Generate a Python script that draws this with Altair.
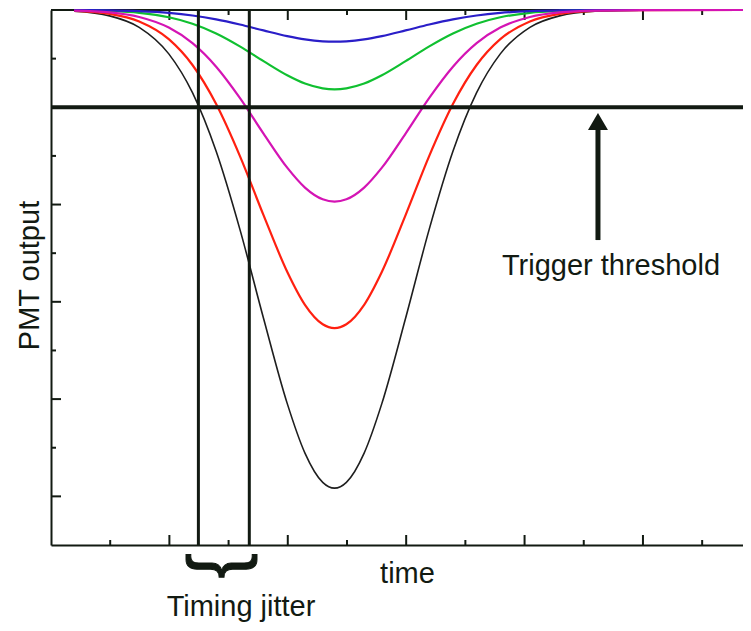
import altair as alt
import pandas as pd

# ---------------- data ----------------
X_DOMAIN = [0, 11.69]
Y_DOMAIN = [-11, 0]

t = [0.39, 0.99, 1.49, 1.99, 2.39, 2.79, 3.19, 3.59, 3.99, 4.29, 4.59, 4.79, 4.99,
     5.29, 5.59, 5.99, 6.39, 6.79, 7.19, 7.59, 8.09, 8.59, 9.19, 10.0, 11.69]

black = [-0.027, -0.121, -0.356, -0.902, -1.700, -2.906, -4.506, -6.338, -8.088, -9.110, -9.711, -9.83,
         -9.711, -9.110, -8.088, -6.338, -4.506, -2.906, -1.700, -0.902, -0.356, -0.121, -0.027, -0.003, 0.0]
red = [-0.018, -0.080, -0.237, -0.600, -1.131, -1.933, -2.998, -4.217, -5.381, -6.061, -6.461, -6.54,
       -6.461, -6.061, -5.381, -4.217, -2.998, -1.933, -1.131, -0.600, -0.237, -0.080, -0.018, -0.002, 0.0]
magenta = [-0.011, -0.048, -0.143, -0.361, -0.681, -1.165, -1.806, -2.541, -3.242, -3.651, -3.892, -3.94,
           -3.892, -3.651, -3.242, -2.541, -1.806, -1.165, -0.681, -0.361, -0.143, -0.048, -0.011, -0.001, 0.0]
green = [-0.004, -0.020, -0.059, -0.150, -0.282, -0.482, -0.747, -1.051, -1.341, -1.511, -1.610, -1.63,
         -1.610, -1.511, -1.341, -1.051, -0.747, -0.482, -0.282, -0.150, -0.059, -0.020, -0.004, 0.0, 0.0]
blue = [-0.002, -0.008, -0.024, -0.060, -0.113, -0.193, -0.299, -0.420, -0.536, -0.604, -0.644, -0.652,
        -0.644, -0.604, -0.536, -0.420, -0.299, -0.193, -0.113, -0.060, -0.024, -0.008, -0.002, 0.0, 0.0]

series_names = ["black", "red", "green", "blue", "magenta"]
series_values = [black, red, green, blue, magenta]
series_colors = ["#1e1e1e", "#ff2010", "#10c030", "#2a1ec8", "#d414b4"]

THRESHOLD = [-2]
JITTER_X = [2.49, 3.35]

X_MAJOR = [2, 4, 6, 8, 10]
X_MINOR = [1, 3, 5, 7, 9, 11]
Y_MAJOR = [-2, -4, -6, -8, -10]
Y_MINOR = [-1, -3, -5, -7, -9]

ARROW_X = [9.24]
ARROW_SHAFT = [-4.73, -2.45]
ARROW_HEAD_Y = [-2.29]

LABELS = ["Trigger threshold", "Timing jitter"]
LABEL_X = [9.46, 3.21]
LABEL_Y = [-5.45, -12.46]

BRACE = ["}"]
BRACE_X = [2.94]
BRACE_Y = [-11.43]

# ---------------- styling ----------------
INK = "#121a12"
FONT = "Liberation Sans"

xs = alt.Scale(domain=X_DOMAIN, nice=False, zero=False)
ys = alt.Scale(domain=Y_DOMAIN, nice=False, zero=False)

x_axis = alt.Axis(title="time", orient="bottom", domain=True, domainColor=INK, domainWidth=2,
                  ticks=False, labels=False, grid=False, titleFont=FONT, titleFontSize=29,
                  titleFontWeight="normal", titleColor=INK, titleX=356, titleY=37,
                  titleBaseline="alphabetic", titleAlign="center")
y_axis = alt.Axis(title="PMT output", orient="left", domain=True, domainColor=INK, domainWidth=2,
                  ticks=False, labels=False, grid=False, titleFont=FONT, titleFontSize=29,
                  titleFontWeight="normal", titleColor=INK, titleX=-13, titleY=265,
                  titleAngle=270, titleBaseline="alphabetic", titleAlign="center")


def XF(field):
    return alt.X(field, type="quantitative", scale=xs, axis=x_axis)


def YF(field):
    return alt.Y(field, type="quantitative", scale=ys, axis=y_axis)


def XD(v):
    return alt.XDatum(v, type="quantitative", scale=xs, axis=x_axis)


def YD(v):
    return alt.YDatum(v, type="quantitative", scale=ys, axis=y_axis)


layers = []

# top frame line (under the curves)
layers.append(alt.Chart(pd.DataFrame({"v": [Y_DOMAIN[1]]})).mark_rule(color=INK, strokeWidth=2)
              .encode(y=YF("v")))


# inward tick marks
def xticks(vals, length, top):
    df = pd.DataFrame({"v": vals})
    edge = Y_DOMAIN[1] if top else Y_DOMAIN[0]
    return alt.Chart(df).mark_rule(color=INK, strokeWidth=2,
                                   y2Offset=(length if top else -length)).encode(
        x=XF("v"), y=YD(edge), y2=alt.Y2Datum(edge))


def yticks(vals, length):
    df = pd.DataFrame({"v": vals})
    return alt.Chart(df).mark_rule(color=INK, strokeWidth=2, x2Offset=length).encode(
        y=YF("v"), x=XD(X_DOMAIN[0]), x2=alt.X2Datum(X_DOMAIN[0]))


layers += [xticks(X_MAJOR, 10, False), xticks(X_MINOR, 5, False),
           xticks(X_MAJOR, 10, True), xticks(X_MINOR, 5, True),
           yticks(Y_MAJOR, 10), yticks(Y_MINOR, 5)]

# curves
for name, vals, col in zip(series_names, series_values, series_colors):
    df = pd.DataFrame({"t": t, "v": vals})
    layers.append(
        alt.Chart(df).mark_line(interpolate="monotone", color=col,
                                strokeWidth=1.6 if name == "black" else 2.2)
        .encode(x=XF("t"), y=YF("v"))
    )

# threshold
layers.append(alt.Chart(pd.DataFrame({"v": THRESHOLD})).mark_rule(color=INK, strokeWidth=4)
              .encode(y=YF("v")))

# timing jitter verticals
layers.append(alt.Chart(pd.DataFrame({"v": JITTER_X})).mark_rule(color=INK, strokeWidth=3)
              .encode(x=XF("v")))

# arrow
layers.append(alt.Chart(pd.DataFrame({"x": ARROW_X, "y": [ARROW_SHAFT[0]], "y2": [ARROW_SHAFT[1]]}))
              .mark_rule(color=INK, strokeWidth=5)
              .encode(x=XF("x"), y=YF("y"), y2="y2:Q"))
layers.append(alt.Chart(pd.DataFrame({"x": ARROW_X, "y": ARROW_HEAD_Y}))
              .mark_point(shape="M-1,0.85L0,-0.85L1,0.85Z", size=400, filled=True,
                          color=INK, opacity=1, strokeWidth=0)
              .encode(x=XF("x"), y=YF("y")))

# labels
layers.append(alt.Chart(pd.DataFrame({"x": LABEL_X, "y": LABEL_Y, "label": LABELS}))
              .mark_text(font=FONT, fontSize=29, color=INK, align="center", baseline="alphabetic")
              .encode(x=XF("x"), y=YF("y"), text="label:N"))

# brace
layers.append(alt.Chart(pd.DataFrame({"x": BRACE_X, "y": BRACE_Y, "label": BRACE}))
              .mark_text(font=FONT, fontSize=76, color=INK, align="center",
                         baseline="middle", angle=90, stroke=INK, strokeWidth=1)
              .encode(x=XF("x"), y=YF("y"), text="label:N"))

chart = alt.layer(*layers).properties(
    width=692, height=535,
    autosize="none",
    padding={"left": 43, "top": 2, "right": 0, "bottom": 78},
).configure_view(stroke=None).configure(background="white")

chart.save("out.html", embed_options={"renderer": "svg", "actions": False})
